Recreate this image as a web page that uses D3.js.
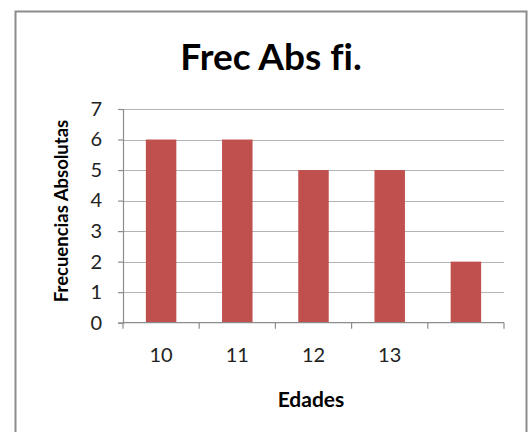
<!DOCTYPE html>
<html>
<head>
<meta charset="utf-8">
<script src="https://cdn.jsdelivr.net/npm/d3@7"></script>
<style>
  html, body { margin: 0; padding: 0; background: #fff; }
  svg { display: block; }
  text { font-family: Lato, "Open Sans", sans-serif; font-variant-ligatures: none; }
</style>
</head>
<body>
<svg id="chart" width="531" height="432"></svg>
<script>
const categories = ["10", "11", "12", "13", ""];
const values = [6, 6, 5, 5, 2];
const yTicks = [0, 1, 2, 3, 4, 5, 6, 7];
const title = "Frec Abs fi.";
const xTitle = "Edades";
const yTitle = "Frecuencias Absolutas";

const svg = d3.select("#chart");

// outer chart border
svg.append("rect")
  .attr("x", 15.5).attr("y", 11.5)
  .attr("width", 511).attr("height", 430)
  .attr("fill", "#fff")
  .attr("stroke", "#8c8c8c").attr("stroke-width", 2);

const plot = { left: 123, right: 504, top: 109, bottom: 322.7 };

const x = d3.scaleBand()
  .domain(d3.range(categories.length))
  .range([plot.left, plot.right])
  .paddingInner(0.6)
  .paddingOuter(0.3);

const y = d3.scaleLinear()
  .domain([0, 7])
  .range([plot.bottom, plot.top]);

// gridlines
svg.append("g")
  .selectAll("line")
  .data(yTicks.filter(d => d > 0))
  .join("line")
  .attr("x1", plot.left).attr("x2", plot.right)
  .attr("y1", d => Math.round(y(d)) + 0.5).attr("y2", d => Math.round(y(d)) + 0.5)
  .attr("stroke", "#b3b3b3").attr("stroke-width", 1.2);

// bars
svg.append("g")
  .selectAll("rect")
  .data(values)
  .join("rect")
  .attr("x", (d, i) => x(i))
  .attr("width", x.bandwidth())
  .attr("y", d => y(d))
  .attr("height", d => y(0) - y(d))
  .attr("fill", "#c0504d");

// y axis
const yAxis = svg.append("g")
  .attr("transform", `translate(${plot.left},0)`)
  .call(d3.axisLeft(y).tickValues(yTicks).tickSize(5).tickPadding(16).tickFormat(d3.format("d")));
yAxis.select(".domain").attr("stroke", "#8c8c8c").attr("stroke-width", 1.2);
yAxis.selectAll(".tick line").attr("stroke", "#8c8c8c").attr("stroke-width", 1.2);
yAxis.selectAll(".tick text")
  .attr("font-size", 20).attr("fill", "#222")
  .style("font-family", "Lato, 'Open Sans', sans-serif");

// x axis with ticks at category boundaries
const n = categories.length;
const boundaries = d3.range(n + 1).map(i => plot.left + i * (plot.right - plot.left) / n);
const xg = svg.append("g");
xg.append("line")
  .attr("x1", plot.left).attr("x2", plot.right)
  .attr("y1", plot.bottom).attr("y2", plot.bottom)
  .attr("stroke", "#8c8c8c").attr("stroke-width", 1.2);
xg.selectAll("line.tk")
  .data(boundaries)
  .join("line")
  .attr("class", "tk")
  .attr("x1", d => d).attr("x2", d => d)
  .attr("y1", plot.bottom).attr("y2", plot.bottom + 6)
  .attr("stroke", "#8c8c8c").attr("stroke-width", 1.2);
xg.selectAll("text")
  .data(categories)
  .join("text")
  .attr("x", (d, i) => x(i) + x.bandwidth() / 2)
  .attr("y", 362)
  .attr("text-anchor", "middle")
  .attr("font-size", 20).attr("fill", "#222")
  .text(d => d);

// titles
svg.append("text")
  .attr("x", 271).attr("y", 70)
  .attr("text-anchor", "middle")
  .attr("font-size", 37).attr("font-weight", "bold").attr("fill", "#000")
  .text(title);

svg.append("text")
  .attr("x", 311).attr("y", 407)
  .attr("text-anchor", "middle")
  .attr("font-size", 21).attr("font-weight", "bold").attr("fill", "#000")
  .text(xTitle);

svg.append("text")
  .attr("transform", `translate(68,211) rotate(-90)`)
  .attr("text-anchor", "middle")
  .attr("font-size", 18.5).attr("font-weight", "bold").attr("fill", "#000")
  .text(yTitle);
</script>
</body>
</html>
